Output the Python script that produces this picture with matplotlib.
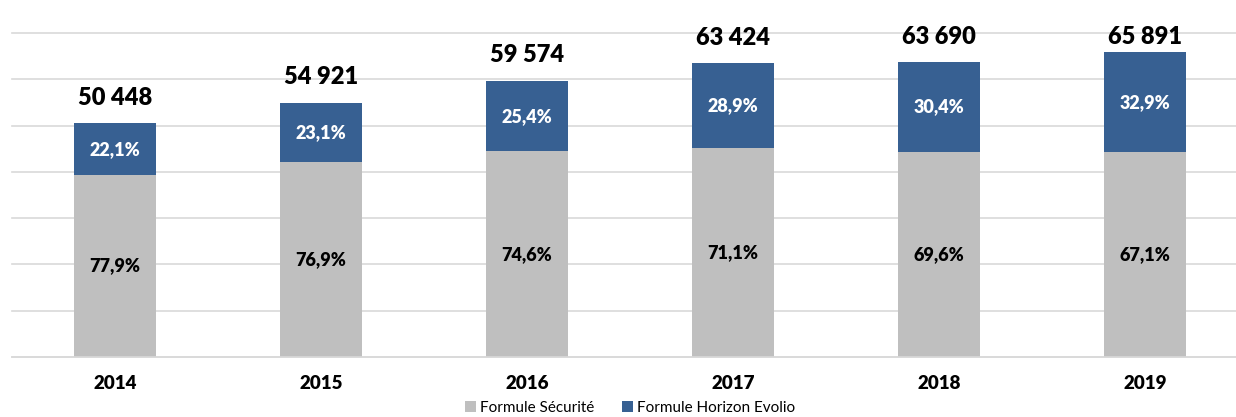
import numpy as np
import matplotlib
matplotlib.use("Agg")
import matplotlib.pyplot as plt

# data
years = ['2014', '2015', '2016', '2017', '2018', '2019']
totals = [50448, 54921, 59574, 63424, 63690, 65891]
pct_securite = [77.9, 76.9, 74.6, 71.1, 69.6, 67.1]
pct_horizon = [22.1, 23.1, 25.4, 28.9, 30.4, 32.9]

gray = '#BFBFBF'
blue = '#376092'

plt.rcParams['font.family'] = ['Lato', 'DejaVu Sans']

fig = plt.figure(figsize=(12.36, 4.17), dpi=100)
ax = fig.add_axes([12 / 1236, 60 / 417, 1224 / 1236, 324 / 417])

x = np.arange(len(years))
tot = np.array(totals, dtype=float)
seg_s = tot * np.array(pct_securite) / 100
seg_h = tot * np.array(pct_horizon) / 100

ax.bar(x, seg_s, width=0.4, color=gray, label='Formule Sécurité', zorder=2)
ax.bar(x, seg_h, width=0.4, bottom=seg_s, color=blue, label='Formule Horizon Evolio', zorder=2)

def fmt_pct(v):
    return f'{v:.1f}%'.replace('.', ',')

for i in range(len(years)):
    ax.text(x[i], seg_s[i] / 2, fmt_pct(pct_securite[i]), ha='center', va='center',
            fontsize=13, fontweight='heavy', color='black', zorder=3)
    ax.text(x[i], seg_s[i] + seg_h[i] / 2, fmt_pct(pct_horizon[i]), ha='center', va='center',
            fontsize=13, fontweight='heavy', color='white', zorder=3)
    label = f'{totals[i]:,}'.replace(',', ' ')
    ty = min(tot[i] + 5600, 69100)
    ax.text(x[i], ty, label, ha='center', va='center', fontsize=17,
            fontweight='heavy', color='black', clip_on=False)

ax.set_xlim(-0.5, 5.5 - 12 / 206)
ax.set_ylim(0, 70000)
ax.set_yticks(np.arange(0, 70001, 10000))
ax.set_yticklabels([])
ax.tick_params(axis='y', length=0)
ax.grid(axis='y', color='#D9D9D9', linewidth=1.2, zorder=0)
for g in ax.get_ygridlines():
    g.set_clip_on(False)

ax.set_xticks(x)
ax.set_xticklabels(years, fontsize=13.5, fontweight='heavy')
ax.tick_params(axis='x', length=0, pad=13)

for s in ['top', 'right', 'left']:
    ax.spines[s].set_visible(False)
ax.spines['bottom'].set_color('#D9D9D9')
ax.spines['bottom'].set_linewidth(1.2)

fig.legend(loc='center', bbox_to_anchor=(0.51, 0.022), ncol=2, frameon=False,
           fontsize=11, handlelength=0.7, handleheight=0.7, handletextpad=0.3,
           columnspacing=1.8)

fig.savefig('out.png', dpi=100)
